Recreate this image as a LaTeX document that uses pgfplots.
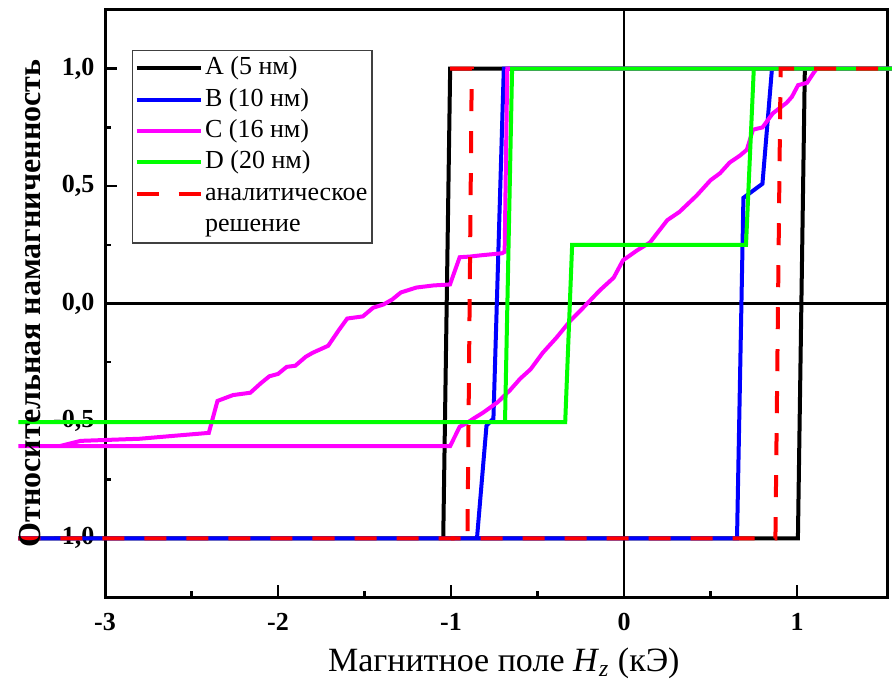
\documentclass[border=0pt]{standalone}
\usepackage{pgfplots}
\pgfplotsset{compat=1.18}
\usepackage{fontspec}
\setmainfont{Liberation Serif}

\definecolor{cA}{RGB}{0,0,0}
\definecolor{cB}{RGB}{0,0,255}
\definecolor{cC}{RGB}{255,0,255}
\definecolor{cD}{RGB}{0,255,0}
\definecolor{cE}{RGB}{255,0,0}

\begin{document}
\begin{tikzpicture}
\useasboundingbox (-52.5pt,-44.5pt) rectangle (393.5pt,298.5pt);
\begin{axis}[
  at={(0pt,0pt)}, anchor=south west,
  scale only axis, width=391pt, height=293.5pt,
  xmin=-3, xmax=1.52, ymin=-1.25, ymax=1.25,
  clip=false,
  axis line style={line width=1.5pt},
  tick pos=left, tick align=inside,
  major tick length=6pt, minor tick length=3pt,
  every tick/.style={black, line width=1.2pt},
  xtick={-3,-2,-1,0,1},
  minor xtick={-2.5,-1.5,-0.5,0.5},
  ytick={-1,-0.5,0,0.5,1},
  minor ytick={-0.75,-0.25,0.25,0.75},
  /pgf/number format/assume math mode=true,
  ticklabel style={font=\fontsize{13}{15}\selectfont\bfseries},
  xticklabel style={yshift=-4.5pt},
  yticklabel style={xshift=-1.8pt, /pgf/number format/.cd, fixed, fixed zerofill, precision=1, use comma},
  xlabel={Магнитное поле \textit{H}\textsubscript{\textit{z}} (кЭ)},
  xlabel style={at={(axis description cs:0.51,0)}, anchor=center, yshift=-33pt, font=\fontsize{17}{19}\selectfont},
  ylabel={Относительная намагниченность},
  ylabel style={at={(axis description cs:-0.0959,0.5)}, anchor=center, font=\fontsize{16}{18}\selectfont\bfseries},
  legend style={at={(axis description cs:0.0345,0.932)}, anchor=north west,
    draw=black!75, line width=0.6pt, fill=white, inner sep=1pt,
    font=\fontsize{13}{15}\selectfont, row sep=0pt,
    nodes={inner sep=1.25pt, text height=9.8pt, text depth=3.4pt}},
  legend cell align=left,
  legend image code/.code={\draw[#1] (0pt,0pt) -- (32pt,0pt);},
  every axis plot/.append style={line width=2pt, line join=miter},
]
% zero lines
\draw[line width=1.4pt] (axis cs:0,-1.25) -- (axis cs:0,1.25);
\draw[line width=1.4pt] (axis cs:-3,0) -- (axis cs:1.52,0);

% A (5 nm)
\addplot[cA] coordinates {
(-3.5,-1) (1.005,-1) (1.045,1) (1.6,1) (-1.005,1) (-1.045,-1) (-3.5,-1)};
\addlegendentry{A (5 нм)}

% B (10 nm)
\addplot[cB] coordinates {
(-3.5,-1) (0.653,-1) (0.69,0.45) (0.80,0.51) (0.855,1) (1.6,1)
(-0.695,1) (-0.755,-0.49) (-0.795,-0.52) (-0.85,-1) (-3.5,-1)};
\addlegendentry{B (10 нм)}

% C (16 nm)
\addplot[cC] coordinates {
(-3.5,-0.607) (-1.005,-0.607) (-0.95,-0.525) (-0.91,-0.51) (-0.87,-0.49)
(-0.815,-0.465) (-0.73,-0.42) (-0.66,-0.37) (-0.60,-0.32) (-0.54,-0.28)
(-0.47,-0.21) (-0.39,-0.145) (-0.31,-0.073) (-0.24,-0.021) (-0.14,0.056)
(-0.06,0.11) (-0.006,0.184) (0.075,0.226) (0.15,0.26) (0.25,0.355)
(0.32,0.39) (0.42,0.46) (0.50,0.525) (0.555,0.555) (0.61,0.60)
(0.67,0.63) (0.71,0.655) (0.745,0.74) (0.80,0.75) (0.86,0.81)
(0.94,0.855) (0.97,0.88) (1.006,0.93) (1.058,0.94) (1.10,0.987)
(1.115,1) (1.6,1)
(-0.675,1) (-0.69,0.22) (-0.705,0.214) (-0.83,0.205) (-0.89,0.20)
(-0.95,0.197) (-1.006,0.081) (-1.10,0.077) (-1.20,0.068) (-1.29,0.047)
(-1.34,0.017) (-1.39,-0.004) (-1.45,-0.018) (-1.51,-0.055) (-1.60,-0.064)
(-1.65,-0.115) (-1.71,-0.18) (-1.80,-0.21) (-1.84,-0.227) (-1.90,-0.265)
(-1.95,-0.27) (-2.0,-0.30) (-2.05,-0.31) (-2.10,-0.34) (-2.16,-0.38)
(-2.26,-0.39) (-2.35,-0.415) (-2.40,-0.551) (-2.61,-0.564) (-2.80,-0.576)
(-3.14,-0.585) (-3.26,-0.607) (-3.5,-0.607)};
\addlegendentry{C (16 нм)}

% D (20 nm)
\addplot[cD] coordinates {
(-3.5,-0.505) (-0.34,-0.505) (-0.30,0.25) (0.705,0.25) (0.75,1) (1.6,1)
(-0.647,1) (-0.688,-0.505) (-3.5,-0.505)};
\addlegendentry{D (20 нм)}

% analytical solution
\addplot[cE, dash pattern=on 11pt off 10pt] coordinates {
(-3.5,-1) (0.875,-1) (0.905,1) (1.6,1)};
\addlegendentry{аналитическое}
\addplot[cE, dash pattern=on 11pt off 10pt, forget plot] coordinates {
(-1.005,1) (-0.88,1) (-0.905,-1) (-1.0,-1)};
\addlegendimage{empty legend}
\addlegendentry{решение}
\end{axis}
\end{tikzpicture}
\end{document}
